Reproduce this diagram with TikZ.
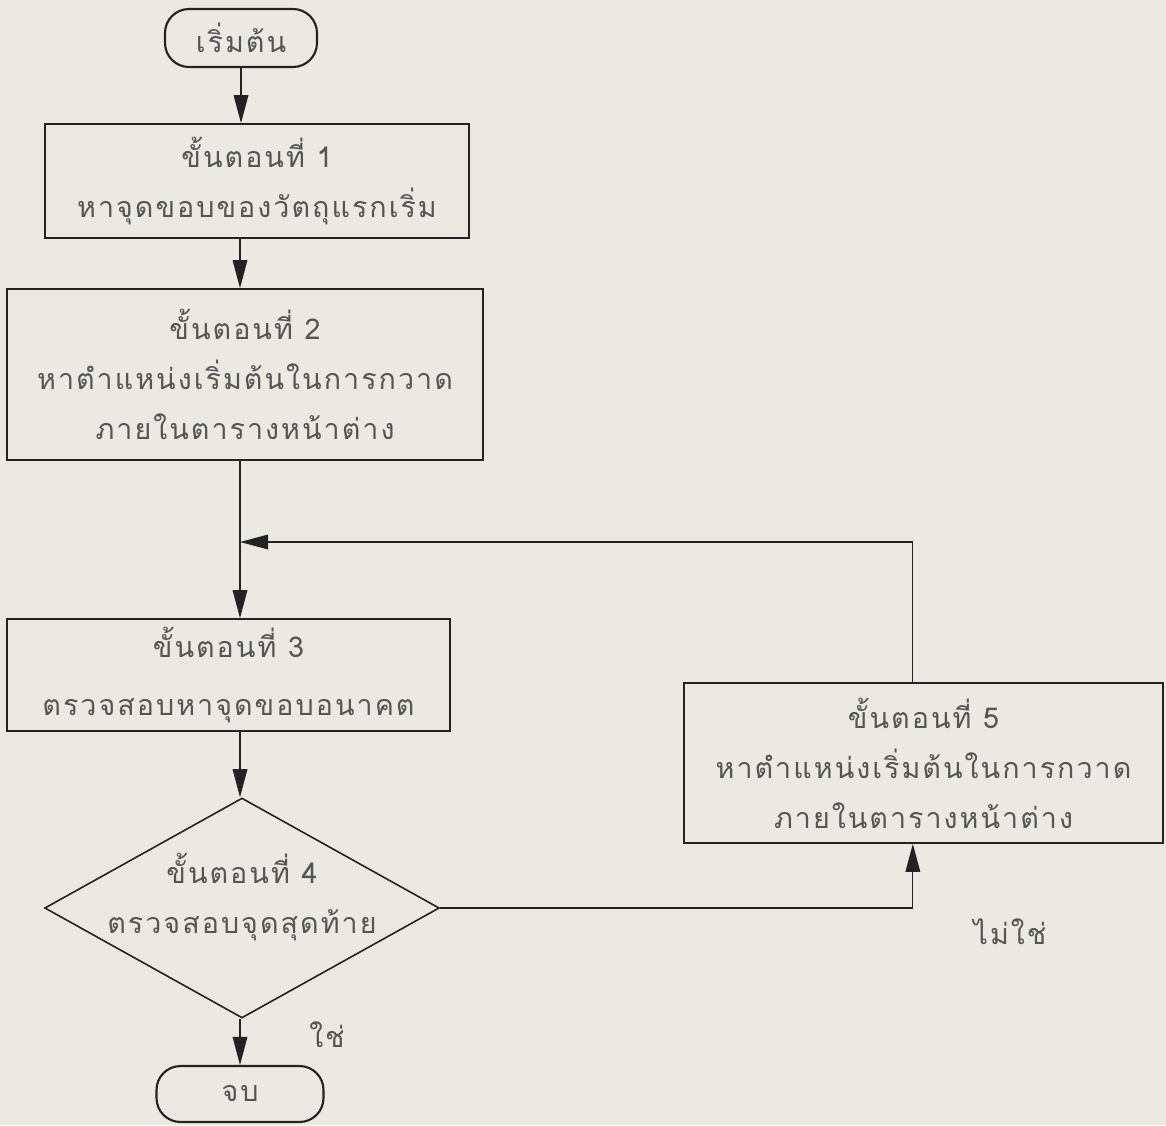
\documentclass[tikz,border=0pt]{standalone}
\usepackage{fontspec}
\newfontfamily\thaifont[Script=Thai,LetterSpace=7]{Loma}
\usetikzlibrary{arrows.meta,shapes.geometric}
\definecolor{paper}{RGB}{234,234,227}
\definecolor{ink}{RGB}{35,35,35}
\definecolor{txt}{RGB}{85,85,85}
\begin{document}
\begin{tikzpicture}[x=0.75pt,y=-0.75pt,
  font=\thaifont\fontsize{21.5}{37.5}\selectfont,
  stepbox/.style={draw=ink, line width=1.3pt, align=center, text=txt, inner sep=0pt},
  term/.style={draw=ink, line width=1.6pt, rounded corners=18pt, text=txt, inner sep=0pt},
  decision/.style={draw=ink, line width=1.2pt, diamond, inner sep=0pt},
  arr/.style={draw=ink, line width=0.9pt, -{Triangle[length=21pt,width=11pt]}},
  lbl/.style={text=txt, align=center}]
\fill[paper] (0,0) rectangle (1166,1125);
\useasboundingbox (0,0) rectangle (1166,1125);

% nodes
\node[term, minimum width=114pt, minimum height=43.5pt] (start) at (241,38) {เริ่มต้น};
\node[stepbox, minimum width=318pt, minimum height=85.5pt] (s1) at (257,181)
  {ขั้นตอนที่ 1\\หาจุดขอบของวัตถุแรกเริ่ม};
\node[stepbox, minimum width=357pt, minimum height=128.25pt] (s2) at (245,374.5)
  {ขั้นตอนที่ 2\\หาตำแหน่งเริ่มต้นในการกวาด\\ภายในตารางหน้าต่าง};
\node[stepbox, minimum width=332.25pt, minimum height=84pt] (s3) at (228.5,675)
  {ขั้นตอนที่ 3\\[6pt]ตรวจสอบหาจุดขอบอนาคต};
\node[decision, minimum width=296pt, minimum height=165pt] (s4) at (242,908) {};
\node[lbl] (s4text) at (242,897) {ขั้นตอนที่ 4\\ตรวจสอบจุดสุดท้าย};
\node[stepbox, minimum width=359.25pt, minimum height=120pt] (s5) at (923.5,763)
  {ขั้นตอนที่ 5\\หาตำแหน่งเริ่มต้นในการกวาด\\ภายในตารางหน้าต่าง};
\node[term, minimum width=125.25pt, minimum height=42pt] (stop) at (240,1094) {จบ};
\node[lbl] (yes) at (327,1035) {ใช่};
\node[lbl] (no) at (1010,932) {ไม่ใช่};

\coordinate (join) at (240,542);
\coordinate (s5in) at ([xshift=-8pt]s5.south);
\coordinate (s5out) at ([xshift=-8pt]s5.north);

% connectors
\draw[arr] (start.south) -- (start.south |- s1.north);
\draw[arr] (s1.south -| join) -- (s2.north -| join);
\draw[arr] (s2.south -| join) -- (s3.north -| join);
\draw[arr] (s3.south -| join) -- (s4.north -| join);
\draw[arr] (s4.south -| join) -- (stop.north -| join);
\draw[arr] (s4.east) -| (s5in);
\draw[arr] (s5out) |- (join);
\end{tikzpicture}
\end{document}
